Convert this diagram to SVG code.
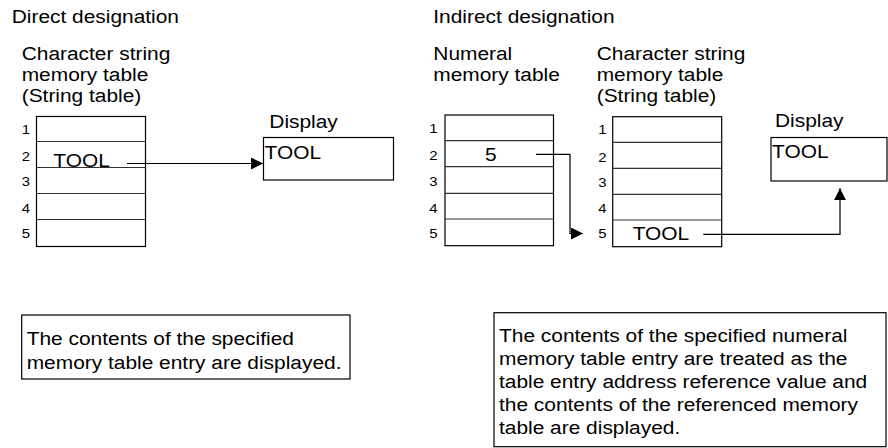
<svg xmlns="http://www.w3.org/2000/svg" width="888" height="448" viewBox="0 0 888 448">
<style>
.t{font-family:"Liberation Sans",Arial,Helvetica,sans-serif;font-size:19px;fill:#000}
.n{font-family:"Liberation Sans",Arial,Helvetica,sans-serif;font-size:13px;fill:#000}
.box{fill:#fff;stroke:#000;stroke-width:1.2}
.row{stroke:#333;stroke-width:1.2}
.conn{fill:none;stroke:#000;stroke-width:1.2}
</style>
<defs>
<marker id="ah" markerWidth="12" markerHeight="12" refX="12" refY="6" orient="auto" markerUnits="userSpaceOnUse">
<path d="M0,0 L12,6 L0,12 z" fill="#000"/>
</marker>
</defs>
<rect width="888" height="448" fill="#fff"/>

<g id="titles">
<text class="t" transform="matrix(1.1 0 0 1 11.7 22.5)">Direct designation</text>
<text class="t" transform="matrix(1.1 0 0 1 433.3 22.5)">Indirect designation</text>
</g>

<g id="left-string-table">
<text class="t" transform="matrix(1.1 0 0 1 21.7 59.5)">Character string</text>
<text class="t" transform="matrix(1.1 0 0 1 21.7 81)">memory table</text>
<text class="t" transform="matrix(1.1 0 0 1 21.7 101.5)">(String table)</text>
<rect class="box" x="36.5" y="116.5" width="109" height="130"/>
<line class="row" x1="36.5" y1="141.5" x2="145.5" y2="141.5"/>
<line class="row" x1="36.5" y1="167.5" x2="145.5" y2="167.5"/>
<line class="row" x1="36.5" y1="193.5" x2="145.5" y2="193.5"/>
<line class="row" x1="36.5" y1="219.5" x2="145.5" y2="219.5"/>
<text class="n" transform="matrix(1.15 0 0 1 21.7 134)">1</text>
<text class="n" transform="matrix(1.15 0 0 1 21.7 160.5)">2</text>
<text class="n" transform="matrix(1.15 0 0 1 21.7 186)">3</text>
<text class="n" transform="matrix(1.15 0 0 1 21.7 212.5)">4</text>
<text class="n" transform="matrix(1.15 0 0 1 21.7 238)">5</text>
<text class="t" transform="matrix(1.1 0 0 1 53.3 167)">TOOL</text>
</g>

<g id="left-display">
<text class="t" transform="matrix(1.1 0 0 1 269.3 128)">Display</text>
<rect class="box" x="263.5" y="137.5" width="130" height="42.5"/>
<text class="t" transform="matrix(1.1 0 0 1 264.5 159.3)">TOOL</text>
</g>

<g id="numeral-table">
<text class="t" transform="matrix(1.1 0 0 1 433.3 59.5)">Numeral</text>
<text class="t" transform="matrix(1.1 0 0 1 433.3 81)">memory table</text>
<rect class="box" x="445" y="115" width="108.5" height="130.7"/>
<line class="row" x1="445" y1="140.7" x2="553.5" y2="140.7"/>
<line class="row" x1="445" y1="166.7" x2="553.5" y2="166.7"/>
<line class="row" x1="445" y1="193.3" x2="553.5" y2="193.3"/>
<line class="row" x1="445" y1="219" x2="553.5" y2="219"/>
<text class="n" transform="matrix(1.15 0 0 1 429.3 133.3)">1</text>
<text class="n" transform="matrix(1.15 0 0 1 429.3 160)">2</text>
<text class="n" transform="matrix(1.15 0 0 1 429.3 186)">3</text>
<text class="n" transform="matrix(1.15 0 0 1 429.3 212.5)">4</text>
<text class="n" transform="matrix(1.15 0 0 1 429.3 237.7)">5</text>
<text class="t" transform="matrix(1.1 0 0 1 485 160.7)">5</text>
</g>

<g id="right-string-table">
<text class="t" transform="matrix(1.1 0 0 1 596.7 59.5)">Character string</text>
<text class="t" transform="matrix(1.1 0 0 1 596.7 81)">memory table</text>
<text class="t" transform="matrix(1.1 0 0 1 596.7 101.5)">(String table)</text>
<rect class="box" x="612.7" y="116.7" width="109" height="130"/>
<line class="row" x1="612.7" y1="142.3" x2="721.7" y2="142.3"/>
<line class="row" x1="612.7" y1="168.3" x2="721.7" y2="168.3"/>
<line class="row" x1="612.7" y1="194.3" x2="721.7" y2="194.3"/>
<line class="row" x1="612.7" y1="220" x2="721.7" y2="220"/>
<text class="n" transform="matrix(1.15 0 0 1 598.3 134.3)">1</text>
<text class="n" transform="matrix(1.15 0 0 1 598.3 161.7)">2</text>
<text class="n" transform="matrix(1.15 0 0 1 598.3 187.3)">3</text>
<text class="n" transform="matrix(1.15 0 0 1 598.3 212.7)">4</text>
<text class="n" transform="matrix(1.15 0 0 1 598.3 238.3)">5</text>
<text class="t" transform="matrix(1.1 0 0 1 632.7 240)">TOOL</text>
</g>

<g id="right-display">
<text class="t" transform="matrix(1.1 0 0 1 775 127)">Display</text>
<rect class="box" x="771" y="137.5" width="116" height="43.5"/>
<text class="t" transform="matrix(1.1 0 0 1 772 158.3)">TOOL</text>
</g>

<g id="connectors">
<line class="conn" x1="127" y1="163.5" x2="263" y2="163.5" marker-end="url(#ah)"/>
<polyline class="conn" points="536,154.3 570,154.3 570,233.5 583,233.5" marker-end="url(#ah)"/>
<polyline class="conn" points="703.3,234.3 840,234.3 840,188.3" marker-end="url(#ah)"/>
</g>

<g id="note-direct">
<rect class="box" x="21.7" y="315" width="328.3" height="64"/>
<text class="t" transform="matrix(1.1 0 0 1 26.7 345)">The contents of the specified</text>
<text class="t" transform="matrix(1.1 0 0 1 26.7 369.3)">memory table entry are displayed.</text>
</g>

<g id="note-indirect">
<rect class="box" x="494" y="312.7" width="392" height="134"/>
<text class="t" transform="matrix(1.1 0 0 1 499 341.7)">The contents of the specified numeral</text>
<text class="t" transform="matrix(1.1 0 0 1 499 365)">memory table entry are treated as the</text>
<text class="t" transform="matrix(1.1 0 0 1 499 388.3)">table entry address reference value and</text>
<text class="t" transform="matrix(1.1 0 0 1 499 411)">the contents of the referenced memory</text>
<text class="t" transform="matrix(1.1 0 0 1 499 434)">table are displayed.</text>
</g>
</svg>
